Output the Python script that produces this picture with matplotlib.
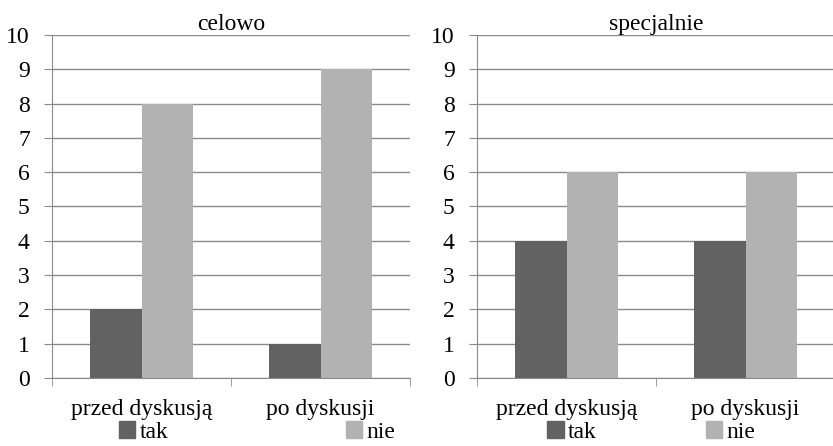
import numpy as np
import matplotlib.pyplot as plt
from matplotlib.patches import Patch

plt.rcParams['font.family'] = ['Liberation Serif', 'DejaVu Serif']

categories = ['przed dyskusją', 'po dyskusji']
titles = ['celowo', 'specjalnie']
tak = [[2, 1], [4, 4]]
nie = [[8, 9], [6, 6]]
series_names = ['tak', 'nie']
dark = '#626262'
light = '#b2b2b2'
grid_c = '#8a8a8a'
fs = 17

fig = plt.figure(figsize=(8.33, 4.46), dpi=100)
lefts = [52 / 833, 477 / 833]
w = 358 / 833
bottom = 1 - 378 / 446
h = (378 - 35) / 446
# legend placement per panel (anchor x, column spacing)
leg_x = [0.573, 0.487]
leg_sp = [7.5, 4.6]

x = np.arange(len(categories))
bw = 0.285
for k in range(2):
    ax = fig.add_axes([lefts[k], bottom, w, h])
    ax.bar(x - bw / 2, tak[k], bw, color=dark, zorder=3)
    ax.bar(x + bw / 2, nie[k], bw, color=light, zorder=3)
    ax.set_xlim(-0.5, 1.5)
    ax.set_ylim(0, 10)
    ax.set_yticks(range(0, 11))
    ax.yaxis.grid(True, color=grid_c, linewidth=1.0, zorder=0)
    for s in ['top', 'right']:
        ax.spines[s].set_visible(False)
    ax.spines['left'].set_color(grid_c)
    ax.spines['bottom'].set_color(grid_c)
    ax.spines['left'].set_zorder(4)
    ax.spines['bottom'].set_zorder(4)
    ax.tick_params(axis='y', length=6, color=grid_c, labelsize=fs, pad=10)
    ax.set_xticks(x)
    ax.set_xticklabels(categories, fontsize=fs)
    ax.tick_params(axis='x', length=0, pad=15)
    ax.set_xticks([-0.5, 0.5, 1.5], minor=True)
    ax.tick_params(axis='x', which='minor', length=6, color=grid_c)
    ax.set_title(titles[k], fontsize=fs, pad=0)
    handles = [Patch(color=dark), Patch(color=light)]
    ax.legend(handles, series_names, loc='center', bbox_to_anchor=(leg_x[k], -0.158),
              ncol=2, frameon=False, fontsize=fs, handlelength=0.7, handleheight=0.7,
              handletextpad=0.2, columnspacing=leg_sp[k], borderpad=0)

fig.savefig('out.png', dpi=100)
